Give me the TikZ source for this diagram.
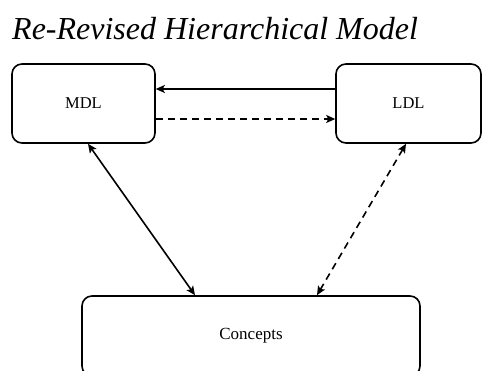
\documentclass[tikz,border=0pt]{standalone}
\usepackage{fontspec}
\setmainfont{Liberation Serif}
\usetikzlibrary{arrows.meta}
\begin{document}
\begin{tikzpicture}[x=1pt,y=-1pt,
  box/.style={draw,line width=1.6pt,rounded corners=10pt,inner sep=0pt},
  tip/.tip={Stealth[length=9pt,width=8pt,inset=2pt]},
  link/.style={line width=1.6pt,-tip},
  twoway/.style={line width=1.6pt,tip-tip},
  dashline/.style={dash pattern=on 7pt off 5pt}]
\useasboundingbox (0,0) rectangle (482,371);
\node[anchor=base west,inner sep=0pt,font=\fontsize{32}{36}\selectfont\itshape] (title) at (12,40) {Re-Revised Hierarchical Model};
\node[box,minimum width=143pt,minimum height=79pt,font=\fontsize{16.5}{18}\selectfont] (mdl) at (83.5,103.5) {MDL};
\node[box,minimum width=145pt,minimum height=79pt,font=\fontsize{16.5}{18}\selectfont] (ldl) at (408.5,103.5) {LDL};
\node[box,minimum width=338pt,minimum height=80pt,font=\fontsize{17}{19}\selectfont] (con) at (251,336) {Concepts};
\draw[link] ([yshift=14.5pt]ldl.west) -- ([yshift=14.5pt]mdl.east);
\draw[link,dashline] ([yshift=-15.5pt]mdl.east) -- ([yshift=-15.5pt]ldl.west);
\draw[twoway] ([xshift=4.5pt]mdl.south) -- ([xshift=-56pt]con.north);
\draw[twoway,dashline] ([xshift=-2.5pt]ldl.south) -- ([xshift=66pt]con.north);
\end{tikzpicture}
\end{document}
